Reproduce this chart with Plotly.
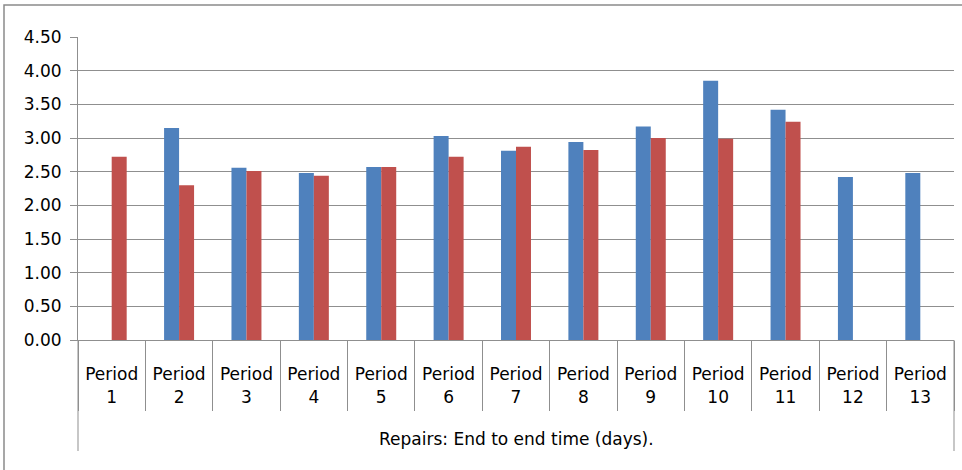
import plotly.graph_objects as go

periods = ["Period %d" % i for i in range(1, 14)]
period_labels = ["Period<br>%d" % i for i in range(1, 14)]
series_blue = [None, 3.15, 2.56, 2.48, 2.57, 3.03, 2.81, 2.94, 3.17, 3.85, 3.42, 2.42, 2.48]
series_red = [2.72, 2.30, 2.51, 2.44, 2.57, 2.72, 2.87, 2.82, 3.00, 2.99, 3.24, None, None]
y_ticks = [0, 0.5, 1, 1.5, 2, 2.5, 3, 3.5, 4, 4.5]
group_label = "Repairs: End to end time (days)."

FONT = "DejaVu Sans"
GRID = "#8f8f8f"

# plot area in pixels: x 78..954, y 37..340
L, R, T, B = 78, 954, 37, 340
W, H = R - L, B - T


def px_x(p):
    return (p - L) / W


def px_y(p):
    return (B - p) / H


fig = go.Figure(
    data=[
        go.Bar(name="Series 1", x=periods, y=series_blue, marker_color="#4F81BD",
               marker_line_width=0),
        go.Bar(name="Series 2", x=periods, y=series_red, marker_color="#C0504D",
               marker_line_width=0),
    ]
)

fig.update_layout(
    width=962,
    height=470,
    margin=dict(l=L, r=962 - R, t=T, b=470 - B),
    paper_bgcolor="white",
    plot_bgcolor="white",
    barmode="group",
    bargap=0.555,
    bargroupgap=0,
    showlegend=False,
    font=dict(family=FONT, size=17, color="#000000"),
)

fig.update_yaxes(
    range=[0, 4.5],
    tickvals=y_ticks,
    tickformat=".2f",
    showgrid=True,
    gridcolor=GRID,
    gridwidth=1,
    showline=True,
    linecolor=GRID,
    linewidth=1,
    ticks="outside",
    ticklen=7,
    tickcolor=GRID,
    ticklabelstandoff=5,
    zeroline=False,
    fixedrange=True,
)

fig.update_xaxes(
    type="category",
    tickvals=periods,
    ticktext=period_labels,
    tickson="boundaries",
    ticks="outside",
    ticklen=70,
    tickcolor=GRID,
    showline=True,
    linecolor=GRID,
    linewidth=1,
    showgrid=False,
    ticklabelstandoff=19,
    tickfont=dict(family=FONT, size=17),
    fixedrange=True,
)

# outer category band edges and chart border
fig.add_shape(type="line", xref="paper", yref="paper", x0=0, x1=0,
              y0=0, y1=px_y(451), line=dict(color=GRID, width=1))
fig.add_shape(type="line", xref="paper", yref="paper", x0=1, x1=1,
              y0=0, y1=px_y(451), line=dict(color=GRID, width=1))
fig.add_shape(type="rect", xref="paper", yref="paper",
              x0=px_x(4), x1=px_x(975), y0=px_y(5), y1=px_y(490),
              line=dict(color="#8a8a8a", width=1.5), layer="below")

fig.add_annotation(
    text=group_label, xref="paper", yref="paper",
    x=0.5, y=px_y(439), showarrow=False,
    font=dict(family=FONT, size=17), xanchor="center", yanchor="middle",
)

fig.write_html("out.html", config={"displayModeBar": False},
               post_script="document.body.style.margin='0';")
